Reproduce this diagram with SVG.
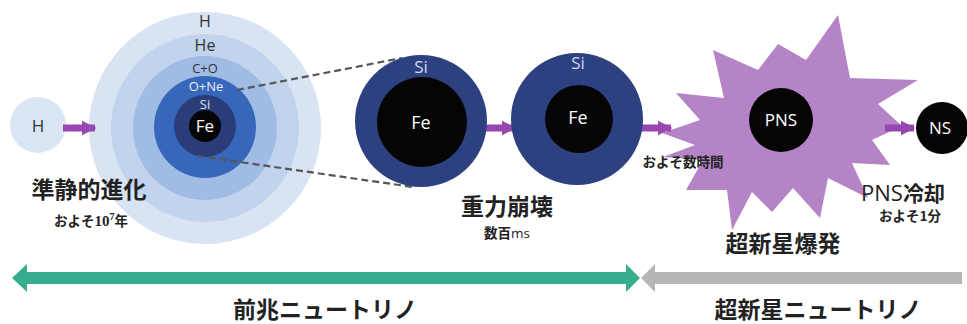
<svg xmlns="http://www.w3.org/2000/svg" width="967" height="324" viewBox="0 0 967 324">
  <defs>
    <style>
      .lat { font-family: "Open Sans", "Noto Sans", "Liberation Sans", sans-serif; text-anchor: middle; }
      .dark { fill: #333333; }
      .white { fill: #ffffff; }
      .jp { font-family: "Noto Sans CJK JP", "Noto Sans", sans-serif; font-weight: bold; fill: #222222; text-anchor: middle; }
      .big { font-size: 23px; }
      .small { font-size: 13.5px; }
      .flow { fill: none; stroke: #9747b0; stroke-width: 7; }
      .dash { fill: none; stroke: #555555; stroke-width: 2.2; stroke-dasharray: 7 4; }
    </style>
    <marker id="head" viewBox="0 0 10 10" refX="9" refY="5" markerWidth="2.1" markerHeight="2.4" orient="auto" markerUnits="strokeWidth">
      <path d="M0,0 L10,5 L0,10 Z" fill="#9747b0"/>
    </marker>
  </defs>

  <rect width="967" height="324" fill="#ffffff"/>

  <!-- initial hydrogen star -->
  <g id="star-h">
    <circle cx="38" cy="125" r="28" fill="#dae5f4"/>
    <text class="lat dark" x="38" y="132" font-size="17">H</text>
  </g>

  <!-- onion-shell massive star -->
  <g id="star-shells">
    <circle cx="205" cy="128" r="116" fill="#d8e4f4"/>
    <circle cx="205" cy="128" r="94" fill="#c1d3ed"/>
    <circle cx="205" cy="128" r="72" fill="#a0bbe4"/>
    <circle cx="205" cy="127" r="51" fill="#3767bb"/>
    <circle cx="205" cy="126" r="31" fill="#2b3d78"/>
    <circle cx="205" cy="126" r="16" fill="#050505"/>
    <text class="lat dark" x="205" y="27" font-size="16">H</text>
    <text class="lat dark" x="205" y="51" font-size="16">He</text>
    <text class="lat dark" x="205" y="73" font-size="13">C+O</text>
    <text class="lat" x="206" y="91" font-size="13" fill="#e8eef8">O+Ne</text>
    <text class="lat" x="205" y="109" font-size="13" fill="#d8e0f0">Si</text>
    <text class="lat white" x="205" y="132" font-size="17">Fe</text>
  </g>

  <!-- supernova burst -->
  <g id="burst">
    <polygon fill="#b584c6" points="662,133 700,120 676,93 724,98 713,50 758,70 778,44 806,60 838,15 850,78 918,80 878,104 902,126 872,140 890,165 852,163 868,198 828,178 820,218 793,188 772,212 752,192 732,230 727,190 686,190 703,160 663,157 695,145"/>
    <circle cx="781" cy="120" r="32" fill="#050505"/>
    <text class="lat white" x="781" y="126" font-size="17">PNS</text>
  </g>

  <!-- connectors -->
  <g id="connectors">
    <line class="dash" x1="237" y1="90" x2="402" y2="58"/>
    <line class="dash" x1="198" y1="156" x2="413" y2="187"/>
    <line class="flow" x1="63" y1="128" x2="95" y2="128" marker-end="url(#head)"/>
    <line class="flow" x1="486" y1="128" x2="515" y2="128" marker-end="url(#head)"/>
    <line class="flow" x1="641" y1="128" x2="671" y2="128" marker-end="url(#head)"/>
    <line class="flow" x1="885" y1="128" x2="914" y2="128" marker-end="url(#head)"/>
  </g>

  <!-- iron core before collapse -->
  <g id="core-1">
    <circle cx="421" cy="121" r="66" fill="#2d4080"/>
    <circle cx="422" cy="122" r="45" fill="#050505"/>
    <text class="lat" x="421" y="73" font-size="17" fill="#d0d8ee">Si</text>
    <text class="lat white" x="421" y="129" font-size="18">Fe</text>
  </g>

  <!-- collapsing core -->
  <g id="core-2">
    <circle cx="577" cy="119" r="66" fill="#2d4080"/>
    <circle cx="579" cy="119" r="34" fill="#050505"/>
    <text class="lat" x="578" y="69" font-size="17" fill="#d0d8ee">Si</text>
    <text class="lat white" x="578" y="124" font-size="18">Fe</text>
  </g>

  <!-- neutron star -->
  <g id="ns">
    <circle cx="942" cy="128" r="26" fill="#050505"/>
    <text class="lat white" x="940" y="134" font-size="17">NS</text>
  </g>

  <!-- stage captions -->
  <g id="captions">
    <text class="jp big" x="89" y="198">準静的進化</text>
    <text class="jp small" x="91" y="226">およそ<tspan font-family="'Liberation Serif', serif" font-size="15">10</tspan><tspan font-family="'Liberation Serif', serif" font-size="10" dy="-6">7</tspan><tspan dy="6">年</tspan></text>
    <text class="jp big" x="507" y="215">重力崩壊</text>
    <text class="jp small" x="507" y="238">数百<tspan font-family="'Open Sans', sans-serif" font-weight="normal">ms</tspan></text>
    <text class="jp small" x="683" y="167">およそ数時間</text>
    <text class="jp" x="903" y="201" font-size="21"><tspan font-family="'Open Sans', sans-serif" font-weight="normal" font-size="22">PNS</tspan>冷却</text>
    <text class="jp small" x="910" y="221">およそ1分</text>
    <text class="jp big" x="783" y="252">超新星爆発</text>
  </g>

  <!-- neutrino epochs -->
  <g id="timeline">
    <polygon fill="#36ae8e" points="12,278 27,264 27,272 626,272 626,264 640,278 626,292 626,284 27,284 27,292"/>
    <polygon fill="#b6b6b9" points="641,278 655,264 655,272 962,272 962,284 655,284 655,292"/>
    <text class="jp big" x="325" y="318">前兆ニュートリノ</text>
    <text class="jp big" x="818" y="318">超新星ニュートリノ</text>
  </g>
</svg>
